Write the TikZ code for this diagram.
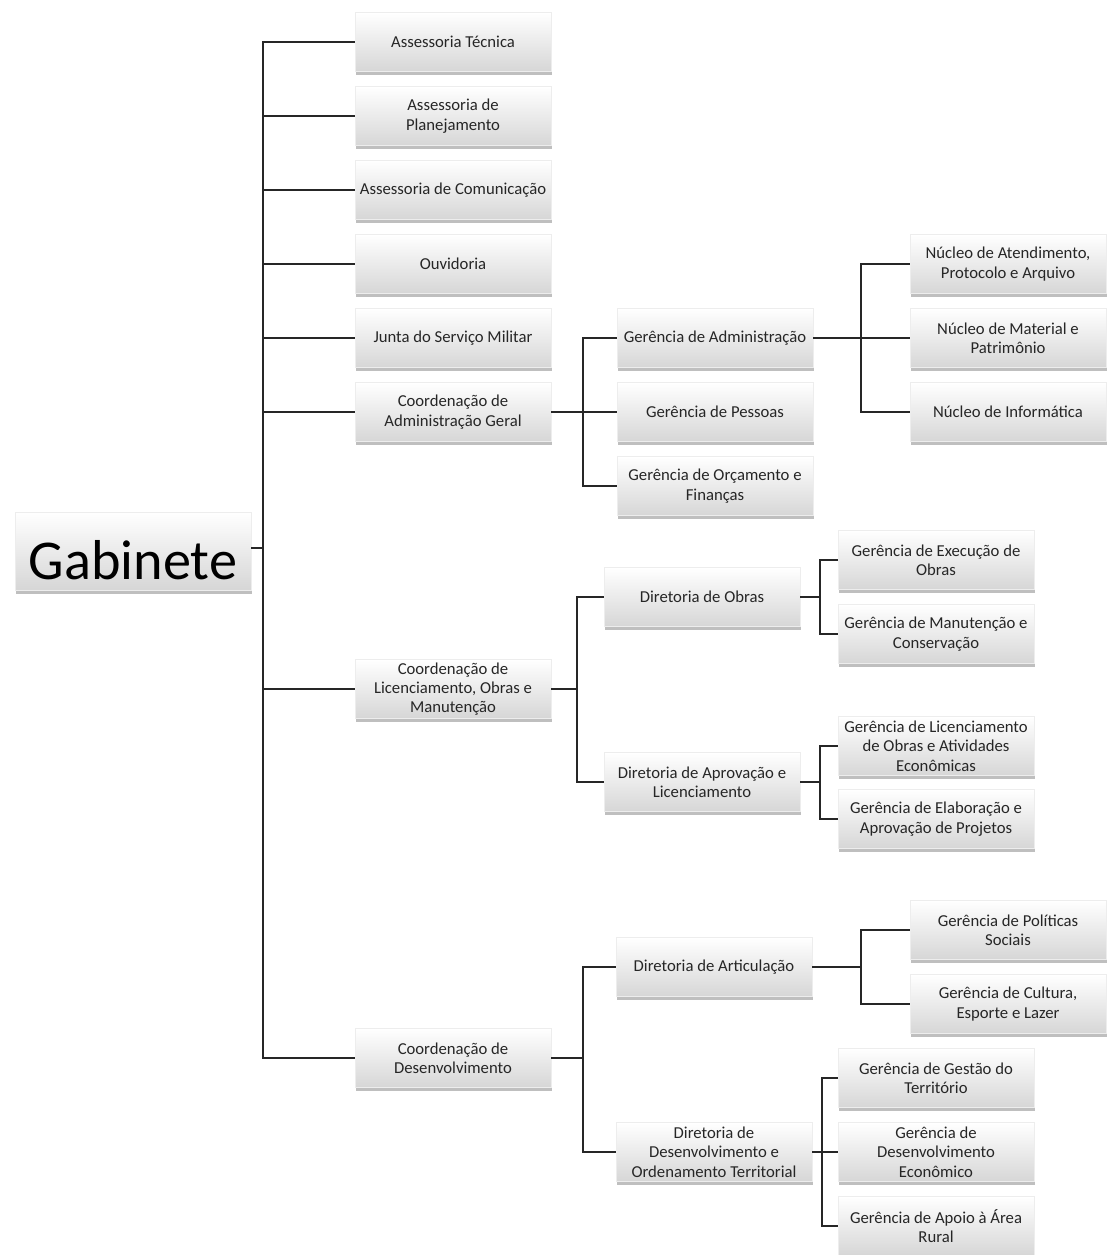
\documentclass[tikz,border=0pt]{standalone}
\usepackage{fontspec}
\setmainfont{Carlito}
\usetikzlibrary{shadows}
\tikzset{
  unit/.style={rectangle, minimum width=3.92cm, minimum height=1.18cm, inner sep=1pt,
               align=center, top color=white, bottom color=black!16, draw=black!7,
               drop shadow={shadow xshift=0.3pt, shadow yshift=-2pt, opacity=0.5},
               font=\fontsize{9.5}{11}\selectfont, text=black!85},
  head/.style={unit, minimum width=4.72cm, minimum height=1.56cm,
               font=\fontsize{32}{36}\selectfont, text=black},
  link/.style={draw=black!85, line width=0.9pt}
}

\begin{document}
\begin{tikzpicture}[x=0.02cm, y=-0.02cm]
        \useasboundingbox (0,0) rectangle (1109,1255);

        % --- Gabinete and its units
        \node[head] (gab) at (133,551) {\rule{0pt}{1.14cm}Gabinete};
        \node[unit] (at)  at (453,42)  {Assessoria Técnica};
        \node[unit] (ap)  at (453,116) {Assessoria de\\Planejamento};
        \node[unit] (ac)  at (453,190) {Assessoria de Comunicação};
        \node[unit] (ouv) at (453,264) {Ouvidoria};
        \node[unit] (jsm) at (453,338) {Junta do Serviço Militar};
        \node[unit] (cag) at (453,412) {Coordenação de\\Administração Geral};
        \node[unit] (clo) at (453,689) {Coordenação de\\Licenciamento, Obras e\\Manutenção};
        \node[unit] (cd)  at (453,1058) {Coordenação de\\Desenvolvimento};

        % --- Administração Geral
        \node[unit] (ga) at (715,338) {Gerência de Administração};
        \node[unit] (gp) at (715,412) {Gerência de Pessoas};
        \node[unit] (go) at (715,486) {Gerência de Orçamento e\\Finanças};
        \node[unit] (na) at (1008,264) {Núcleo de Atendimento,\\Protocolo e Arquivo};
        \node[unit] (nm) at (1008,338) {Núcleo de Material e\\Patrimônio};
        \node[unit] (ni) at (1008,412) {Núcleo de Informática};

        % --- Licenciamento, Obras e Manutenção
        \node[unit] (do)  at (702,597) {Diretoria de Obras};
        \node[unit] (da)  at (702,782) {Diretoria de Aprovação e\\Licenciamento};
        \node[unit] (ge)  at (936,560) {Gerência de Execução de\\Obras};
        \node[unit] (gm)  at (936,634) {Gerência de Manutenção e\\Conservação};
        \node[unit] (gl)  at (936,746) {Gerência de Licenciamento\\de Obras e Atividades\\Econômicas};
        \node[unit] (gel) at (936,819) {Gerência de Elaboração e\\Aprovação de Projetos};

        % --- Desenvolvimento
        \node[unit] (dar) at (714,967)  {Diretoria de Articulação};
        \node[unit] (ddo) at (714,1152) {Diretoria de\\Desenvolvimento e\\Ordenamento Territorial};
        \node[unit] (gps) at (1008,930)  {Gerência de Políticas\\Sociais};
        \node[unit] (gcl) at (1008,1004) {Gerência de Cultura,\\Esporte e Lazer};
        \node[unit] (ggt) at (936,1078) {Gerência de Gestão do\\Território};
        \node[unit] (gde) at (936,1152) {Gerência de\\Desenvolvimento\\Econômico};
        \node[unit] (gaa) at (936,1226) {Gerência de Apoio à Área\\Rural};

        % --- Junction points
        \coordinate (t1) at (263,548);
        \coordinate (t2) at (583,412);
        \coordinate (t9) at (861,338);
        \coordinate (t3) at (577,689);
        \coordinate (t4) at (820,597);
        \coordinate (t5) at (820,782);
        \coordinate (t6) at (583,1058);
        \coordinate (t7) at (861,967);
        \coordinate (t8) at (822,1152);

        % --- Gabinete -> units
        \draw[link] (gab.east |- t1) -- (t1);
        \foreach \u in {at,ap,ac,ouv,jsm,cag,clo,cd}
          \draw[link] (t1) |- (\u.west);

        % --- Administração Geral
        \draw[link] (cag.east) -- (t2);
        \foreach \u in {ga,gp,go}
          \draw[link] (t2) |- (\u.west);
        \draw[link] (ga.east) -- (t9);
        \foreach \u in {na,nm,ni}
          \draw[link] (t9) |- (\u.west);

        % --- Licenciamento, Obras e Manutenção
        \draw[link] (clo.east) -- (t3);
        \foreach \u in {do,da}
          \draw[link] (t3) |- (\u.west);
        \draw[link] (do.east) -- (t4);
        \foreach \u in {ge,gm}
          \draw[link] (t4) |- (\u.west);
        \draw[link] (da.east) -- (t5);
        \foreach \u in {gl,gel}
          \draw[link] (t5) |- (\u.west);

        % --- Desenvolvimento
        \draw[link] (cd.east) -- (t6);
        \foreach \u in {dar,ddo}
          \draw[link] (t6) |- (\u.west);
        \draw[link] (dar.east) -- (t7);
        \foreach \u in {gps,gcl}
          \draw[link] (t7) |- (\u.west);
        \draw[link] (ddo.east) -- (t8);
        \foreach \u in {ggt,gde,gaa}
          \draw[link] (t8) |- (\u.west);

        \end{tikzpicture}
\end{document}
